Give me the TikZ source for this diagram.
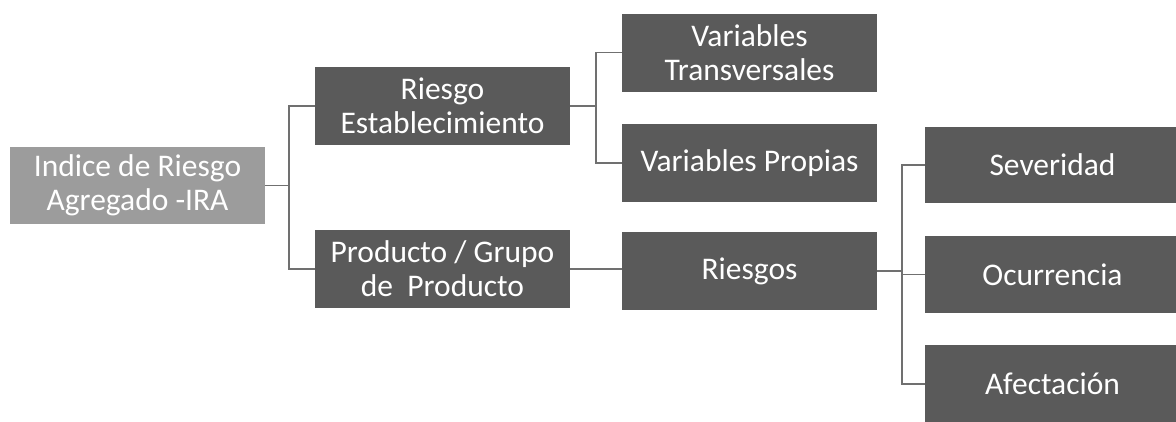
\documentclass[tikz,border=0pt]{standalone}
\usepackage{fontspec}
\setmainfont{Carlito}
\definecolor{boxdark}{HTML}{5A5A5A}
\definecolor{boxlight}{HTML}{9C9C9C}
\definecolor{linegray}{HTML}{707070}
\begin{document}
\begin{tikzpicture}[x=1pt,y=-1pt,
  box/.style={draw=none,fill=boxdark,text=white,minimum width=255pt,minimum height=78pt,
    align=center,inner sep=0pt,font=\fontsize{31.5}{34}\selectfont},
  rootbox/.style={box,fill=boxlight,minimum height=77pt},
  conn/.style={draw=linegray,line width=1.5pt}]
\useasboundingbox (0,0) rectangle (1176,421);
\clip (0,0) rectangle (1176,421);
\node[rootbox] (ira) at (137.5,185.5) {Indice de Riesgo\\Agregado -IRA};
\node[box] (re) at (442.5,106) {Riesgo\\Establecimiento};
\node[box] (pg) at (442.5,269) {Producto / Grupo\\de\ \ Producto};
\node[box] (vt) at (749.5,52.5) {Variables\\Transversales};
\node[box] (vp) at (749.5,163) {Variables Propias};
\node[box] (ri) at (749.5,271) {Riesgos};
\node[box,minimum height=76pt] (sev) at (1052.5,165) {Severidad};
\node[box,minimum height=77pt] (oc) at (1052.5,274.5) {Ocurrencia};
\node[box] (af) at (1052.5,384) {Afectación};
\coordinate (j1) at ([xshift=24pt]ira.east);
\coordinate (j2) at ([xshift=26pt]re.east);
\coordinate (j3) at ([xshift=25pt]ri.east);
\draw[conn] (ira.east) -- (j1);
\draw[conn] (j1) |- (re.west);
\draw[conn] (j1) |- (pg.west);
\draw[conn] (re.east) -- (j2);
\draw[conn] (j2) |- (vt.west);
\draw[conn] (j2) |- (vp.west);
\draw[conn] (pg.east) -- (pg.east -| ri.west);
\draw[conn] (ri.east) -- (j3);
\draw[conn] (j3) |- (sev.west);
\draw[conn] (j3) |- (oc.west);
\draw[conn] (j3) |- (af.west);
\end{tikzpicture}
\end{document}
